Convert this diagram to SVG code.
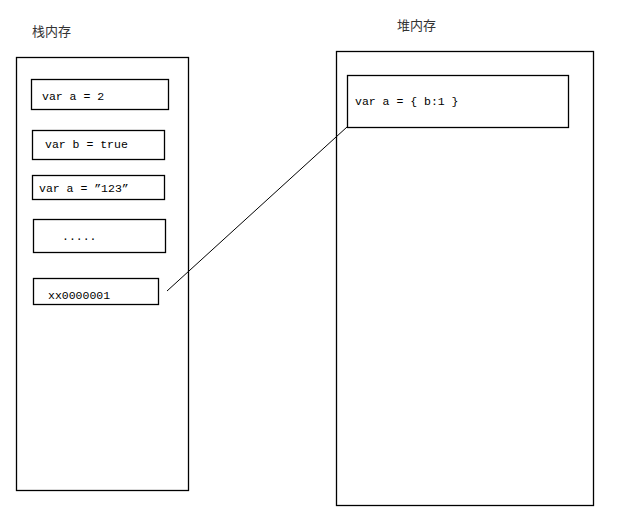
<svg xmlns="http://www.w3.org/2000/svg" width="622" height="522" viewBox="0 0 622 522">
<style>
.box{fill:#fff;stroke:#000;stroke-width:1.3}
.code{font-family:"Liberation Mono","DejaVu Sans Mono",monospace;font-size:11.5px;fill:#000}
.title{font-family:"Noto Sans CJK SC","Noto Sans",sans-serif;font-size:13px;fill:#333}
.conn{stroke:#000;stroke-width:1;fill:none}
</style>
<rect width="622" height="522" fill="#fff"/>
<g id="stack">
<rect class="box" x="16.5" y="57.5" width="172" height="433"/>
<text class="title" x="32" y="36">栈内存</text>
</g>
<g id="heap">
<rect class="box" x="336.5" y="51.5" width="257" height="454"/>
<text class="title" x="397" y="30">堆内存</text>
</g>
<g id="var-a-2">
<rect class="box" x="31.5" y="79.5" width="137" height="30"/>
<text class="code" x="42" y="100">var a = 2</text>
</g>
<g id="var-b-true">
<rect class="box" x="32.5" y="130.5" width="132" height="29"/>
<text class="code" x="45" y="148">var b = true</text>
</g>
<g id="var-a-123">
<rect class="box" x="32.5" y="175.5" width="132" height="24"/>
<text class="code" x="39" y="192">var a = ”123”</text>
</g>
<g id="ellipsis">
<rect class="box" x="33.5" y="219.5" width="132" height="33"/>
<text class="code" x="62" y="240">.....</text>
</g>
<g id="address">
<rect class="box" x="33.5" y="278.5" width="125" height="26"/>
<text class="code" x="48" y="299">xx0000001</text>
</g>
<g id="heap-obj">
<rect class="box" x="347.5" y="75.5" width="221" height="52"/>
<text class="code" x="355" y="105">var a = { b:1 }</text>
</g>
<g id="connectors">
<line class="conn" x1="167" y1="291" x2="347" y2="127"/>
</g>
</svg>
